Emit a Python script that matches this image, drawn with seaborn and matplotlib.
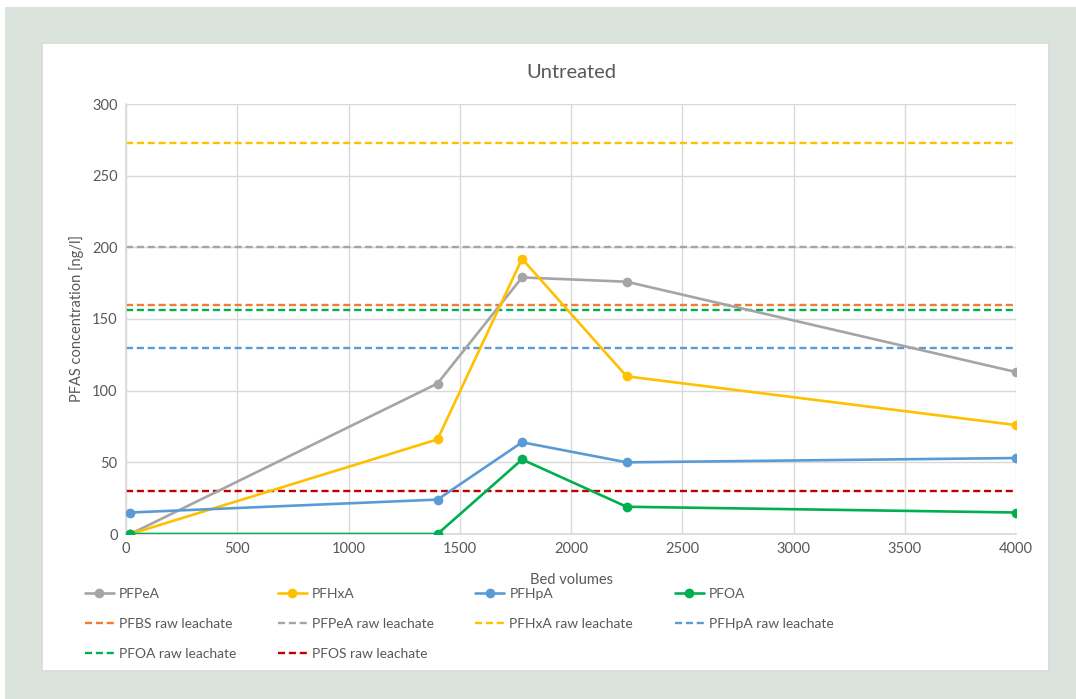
import pandas as pd
import matplotlib.pyplot as plt
import matplotlib.patches as patches
import seaborn as sns

# Data
bed_volumes = [20, 1400, 1780, 2250, 4000]
pfpea = [0, 105, 179, 176, 113]
pfhxa = [0, 66, 192, 110, 76]
pfhpa = [15, 24, 64, 50, 53]
pfoa = [0, 0, 52, 19, 15]

series_names = ['PFPeA', 'PFHxA', 'PFHpA', 'PFOA']
series_colors = ['#A5A5A5', '#FFC000', '#5B9BD5', '#00B050']

raw_names = ['PFBS raw leachate', 'PFPeA raw leachate', 'PFHxA raw leachate',
             'PFHpA raw leachate', 'PFOA raw leachate', 'PFOS raw leachate']
raw_values = [160, 200, 273, 130, 156, 30]
raw_colors = ['#ED7D31', '#A5A5A5', '#FFC000', '#5B9BD5', '#00B050', '#C00000']

x_ticks = [0, 500, 1000, 1500, 2000, 2500, 3000, 3500, 4000]
y_ticks = [0, 50, 100, 150, 200, 250, 300]

# long-form table for seaborn
df = pd.DataFrame({
    'Bed volumes': bed_volumes * 4,
    'Concentration': pfpea + pfhxa + pfhpa + pfoa,
    'Compound': [n for n in series_names for _ in bed_volumes],
})

sns.set_theme(style='white')
plt.rcParams['font.family'] = ['Lato', 'DejaVu Sans']
text_color = '#595959'
grid_color = '#D9D9D9'

fig = plt.figure(figsize=(10.76, 6.99), dpi=100)
fig.patch.set_facecolor('white')

# outer panel and white chart box
fig.add_artist(patches.Rectangle((5 / 1076, 0), 1, 1 - 7 / 699, transform=fig.transFigure,
                                 facecolor='#DAE4DD', edgecolor='none', zorder=-3))
fig.add_artist(patches.Rectangle((42 / 1076, 1 - 671 / 699), 1007 / 1076, 628 / 699,
                                 transform=fig.transFigure, facecolor='white',
                                 edgecolor='#D9D9D9', linewidth=1.2, zorder=-2))

ax = fig.add_axes([126 / 1076, 1 - 534 / 699, 890 / 1076, 430 / 699])
ax.set_facecolor('none')

sns.lineplot(data=df, x='Bed volumes', y='Concentration', hue='Compound',
             hue_order=series_names, palette=series_colors, marker='o',
             markersize=7, markeredgewidth=0, linewidth=1.9, ax=ax, zorder=3)

for name, val, col in zip(raw_names, raw_values, raw_colors):
    ax.axhline(val, color=col, linestyle=(0, (3, 1.6)), linewidth=1.7, label=name, zorder=2)

ax.set_xlim(0, 4000)
ax.set_ylim(0, 300)
ax.set_xticks(x_ticks)
ax.set_yticks(y_ticks)
ax.grid(True, color=grid_color, linewidth=1)
ax.set_axisbelow(True)
for side in ['top', 'right']:
    ax.spines[side].set_visible(False)
for side in ['left', 'bottom']:
    ax.spines[side].set_color(grid_color)
    ax.spines[side].set_linewidth(1.2)
ax.tick_params(axis='both', length=0, labelsize=10.5, labelcolor=text_color, pad=6)

ax.set_title('Untreated', fontsize=14.5, color=text_color, pad=19)
ax.set_xlabel('Bed volumes', fontsize=10.5, color=text_color, labelpad=12)
ax.set_ylabel('PFAS concentration [ng/l]', fontsize=10.5, color=text_color, labelpad=6)

# legend, row-wise like Excel (matplotlib fills columns first)
handles, labels = ax.get_legend_handles_labels()
lookup = dict(zip(labels, handles))
order = ['PFPeA', 'PFBS raw leachate', 'PFOA raw leachate',
         'PFHxA', 'PFPeA raw leachate', 'PFOS raw leachate',
         'PFHpA', 'PFHxA raw leachate',
         'PFOA', 'PFHpA raw leachate']
ax.legend_.remove()
fig.legend([lookup[o] for o in order], order, ncol=4, loc='upper left',
           bbox_to_anchor=(72 / 1076, 1 - 575 / 699), frameon=False,
           fontsize=10, labelcolor=text_color, handlelength=2.1,
           handletextpad=0.35, columnspacing=3.0, labelspacing=1.3)

plt.savefig('out.png', dpi=100)
